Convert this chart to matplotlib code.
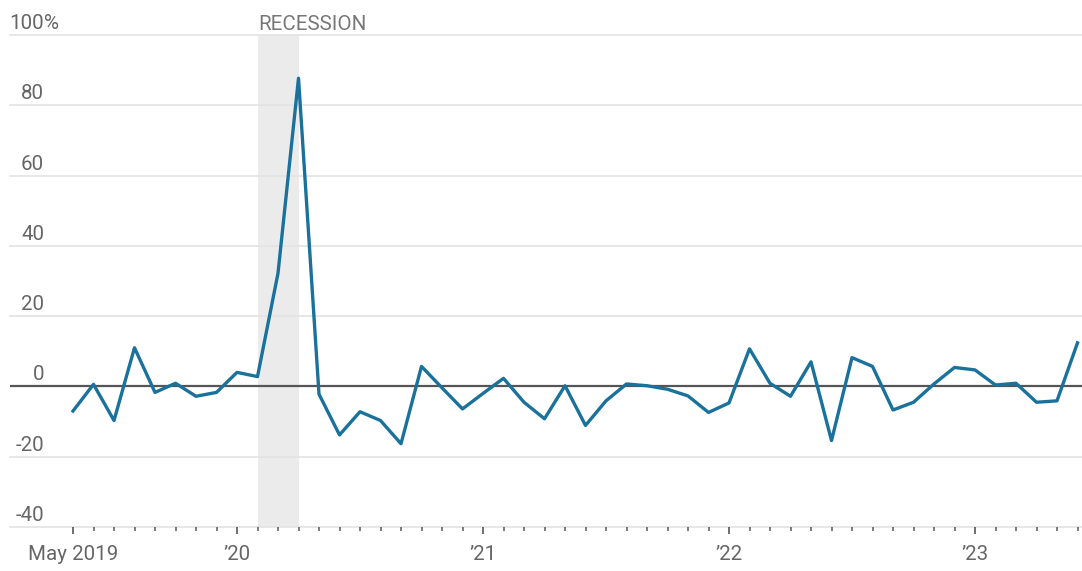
import numpy as np
import pandas as pd
import matplotlib
matplotlib.use('Agg')
import matplotlib.pyplot as plt
from matplotlib.transforms import blended_transform_factory

plt.rcParams['font.family'] = ['Roboto', 'DejaVu Sans']

# monthly change, May 2019 - Jun 2023
months = pd.date_range('2019-05-01', periods=50, freq='MS')
values = [-7, 0.6, -9.7, 11, -1.7, 0.9, -2.8, -1.7,
          4, 2.8, 32.2, 87.7, -2.2, -13.8, -7.2, -9.7, -16.3, 5.7, -0.4, -6.4,
          -2, 2.3, -4.5, -9.2, 0.2, -11.1, -4.1, 0.7, 0.2, -0.8, -2.7, -7.4,
          -4.7, 10.7, 0.9, -2.8, 7, -15.4, 8.2, 5.7, -6.7, -4.5, 0.7, 5.4,
          4.7, 0.4, 0.9, -4.5, -4.1, 12.4]
recession = ('2020-02-01', '2020-04-01')
yticks = [-40, -20, 0, 20, 40, 60, 80, 100]
xlabels = {'2019-05-01': 'May 2019', '2020-01-01': '\u201920', '2021-01-01': '\u201921',
           '2022-01-01': '\u201922', '2023-01-01': '\u201923'}

x = np.arange(len(months))
pos = {d.strftime('%Y-%m-%d'): i for i, d in enumerate(months)}

fig = plt.figure(figsize=(10.82, 5.71), dpi=100)
W, H = 1082, 571
ax = fig.add_axes([10 / W, (H - 527) / H, 1072 / W, (527 - 35) / H])
ax.set_xlim((10 - 73) / 20.5, (1082 - 73) / 20.5)
ax.set_ylim(-40, 100)

fs = 14.8
grey = '#666666'

# recession band
ax.axvspan(pos[recession[0]], pos[recession[1]], color='#ebebeb', lw=0, zorder=0)
ax.text(pos[recession[0]] + 0.05, 101.5, 'RECESSION', ha='left', va='baseline',
        fontsize=fs, color='#777777', clip_on=False)

for t in yticks:
    if t == 0:
        continue
    ax.axhline(t, color='#e3e3e3', lw=1.2, zorder=1, clip_on=False)
ax.axhline(0, color='#555555', lw=1.6, zorder=2)

ax.plot(x, values, color='#1a729c', lw=2.4, zorder=3)

# y labels above gridlines
tr = blended_transform_factory(fig.transFigure, ax.transData)
for t in yticks:
    ax.text(44 / W, t + 1.7, str(t), transform=tr, ha='right', va='baseline',
            fontsize=fs, color=grey)
ax.text(44 / W, 100 + 1.7, '%', transform=tr, ha='left', va='baseline',
        fontsize=fs, color=grey)

for s in ax.spines.values():
    s.set_visible(False)
ax.set_yticks([])

majors = [pos[k] for k in xlabels]
ax.set_xticks(majors)
ax.set_xticklabels(list(xlabels.values()), fontsize=fs, color=grey)
ax.set_xticks(x, minor=True)
ax.tick_params(axis='x', which='major', length=5, width=1.2, color='#555555', pad=8)
ax.tick_params(axis='x', which='minor', length=3, width=1.2, color='#666666')

fig.savefig('out.png', dpi=100)
